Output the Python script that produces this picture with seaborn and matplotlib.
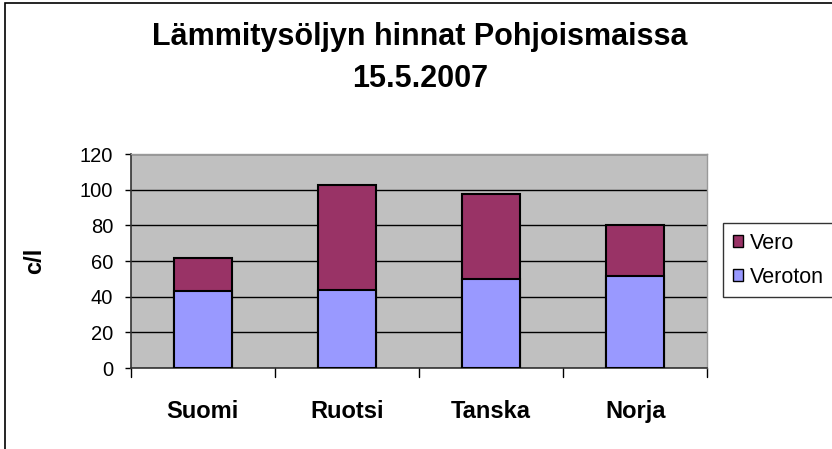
import numpy as np
import pandas as pd
import matplotlib
matplotlib.use('Agg')
import matplotlib.pyplot as plt
import seaborn as sns
from matplotlib.patches import Patch, Rectangle

# data (c/l)
maat = ['Suomi', 'Ruotsi', 'Tanska', 'Norja']
veroton = [43, 44, 50, 51.7]
vero = [18.5, 58.5, 47.5, 28.3]
y_ticks = [0, 20, 40, 60, 80, 100, 120]

df = pd.DataFrame({'maa': maat, 'Veroton': veroton, 'Vero': vero})
df['Yhteensä'] = df['Veroton'] + df['Vero']

sns.set_style('white')
plt.rcParams['font.family'] = ['Liberation Sans', 'DejaVu Sans']
plt.rcParams.update({'text.color': 'black', 'axes.labelcolor': 'black',
                     'xtick.color': 'black', 'ytick.color': 'black'})

vero_col = '#993366'
veroton_col = '#9999FF'

fig = plt.figure(figsize=(8.32, 4.49), dpi=100)
ax = fig.add_axes([0.157, 0.180, 0.693, 0.477])
ax.set_facecolor('#C0C0C0')

# stacked: total bar in Vero colour, Veroton drawn over it
sns.barplot(data=df, x='maa', y='Yhteensä', color=vero_col, saturation=1,
            width=0.40, edgecolor='black', linewidth=1.5, ax=ax, zorder=3)
sns.barplot(data=df, x='maa', y='Veroton', color=veroton_col, saturation=1,
            width=0.40, edgecolor='black', linewidth=1.5, ax=ax, zorder=3)

ax.set_ylim(0, 120)
ax.set_xlim(-0.5, 3.5)
ax.set_yticks(y_ticks)
ax.yaxis.grid(True, color='black', linewidth=1, zorder=1)
ax.set_axisbelow(True)
ax.tick_params(axis='y', labelsize=14.5, length=4.5, width=1, direction='out', left=True, pad=8)
ax.set_xticks(range(len(maat)))
ax.set_xticklabels(maat, fontsize=17, fontweight='bold')
ax.tick_params(axis='x', length=0, pad=23)
# category separator ticks
for xb in np.arange(-0.5, 4, 1):
    ax.plot([xb, xb], [0, -5], color='black', linewidth=1, clip_on=False)

ax.set_xlabel('')
ax.set_ylabel('c/l', fontsize=17, fontweight='bold')
ax.yaxis.set_label_coords(-0.146, 0.5)

for side in ['left', 'bottom']:
    ax.spines[side].set_color('#333333')
    ax.spines[side].set_linewidth(1.2)
for side in ['top', 'right']:
    ax.spines[side].set_color('#999999')
    ax.spines[side].set_linewidth(1)

fig.text(0.505, 1 - 37 / 449, 'Lämmitysöljyn hinnat Pohjoismaissa',
         ha='center', va='center', fontsize=22, fontweight='bold')
fig.text(0.505, 1 - 79 / 449, '15.5.2007',
         ha='center', va='center', fontsize=22, fontweight='bold')

handles = [Patch(facecolor=vero_col, edgecolor='black', label='Vero'),
           Patch(facecolor=veroton_col, edgecolor='black', label='Veroton')]
leg = fig.legend(handles=handles, loc='upper left', bbox_to_anchor=(723 / 832, 1 - 223 / 449),
                 frameon=True, fancybox=False, fontsize=15.5, handlelength=0.5,
                 handleheight=0.5, handletextpad=0.3, labelspacing=0.6,
                 borderpad=0.45, borderaxespad=0)
leg.get_frame().set_edgecolor('black')
leg.get_frame().set_linewidth(1)

# outer chart border
fig.patches.append(Rectangle((0.006, -0.01), 1.1, 1.003, transform=fig.transFigure,
                             fill=False, edgecolor='black', linewidth=1.2))

fig.savefig('out.png', dpi=100)
